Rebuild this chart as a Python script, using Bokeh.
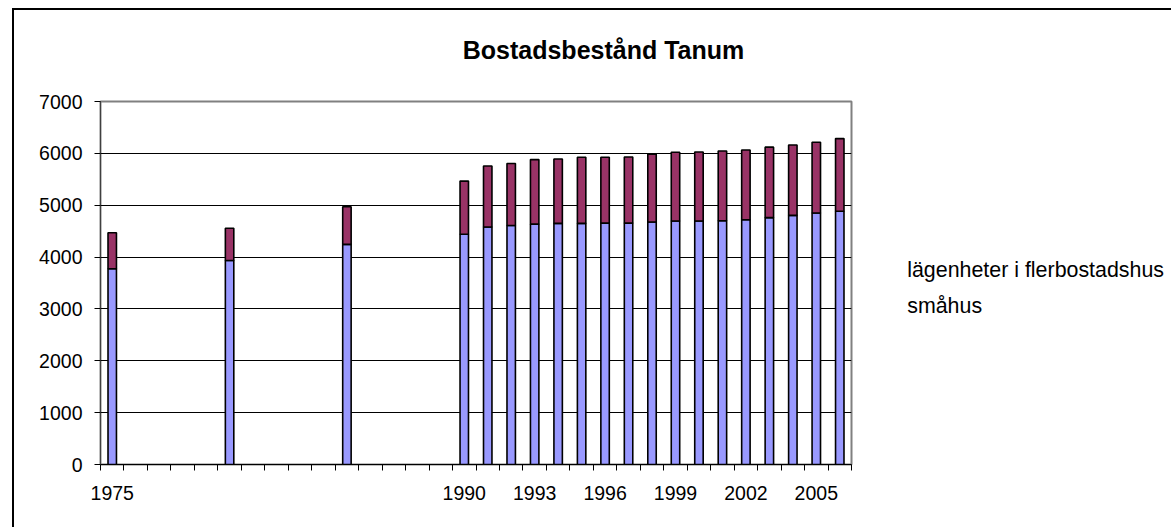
from bokeh.plotting import figure
from bokeh.layouts import column, row
from bokeh.models import (FixedTicker, Legend, LegendItem, ColumnDataSource, Label, Range1d,
                          CDSView, IndexFilter)
from bokeh.embed import file_html
from bokeh.resources import INLINE

years = [1975, 1980, 1985, 1990, 1991, 1992, 1993, 1994, 1995, 1996,
         1997, 1998, 1999, 2000, 2001, 2002, 2003, 2004, 2005, 2006]
smahus = [3775, 3935, 4245, 4440, 4580, 4610, 4635, 4650, 4650, 4655,
          4655, 4675, 4695, 4695, 4700, 4720, 4760, 4805, 4850, 4885]
lagenheter = [695, 620, 725, 1025, 1175, 1195, 1245, 1240, 1275, 1270,
              1275, 1310, 1325, 1330, 1345, 1345, 1360, 1355, 1365, 1400]
x_labels = [1975, 1990, 1993, 1996, 1999, 2002, 2005]
y_ticks = [0, 1000, 2000, 3000, 4000, 5000, 6000, 7000]
series_names = ["lägenheter i flerbostadshus", "småhus"]
series_colors = ["#993366", "#9999FF"]
title_text = "Bostadsbestånd Tanum"

FONT = "Liberation Sans"

# ---- title strip ----
pt = figure(width=1157, height=70, x_range=Range1d(0, 1), y_range=Range1d(0, 1),
            x_axis_type=None, y_axis_type=None, output_backend="svg",
            toolbar_location=None, title=None,
            min_border_left=0, min_border_right=0, min_border_top=0, min_border_bottom=0)
pt.outline_line_color = None
pt.background_fill_alpha = 0
pt.border_fill_alpha = 0
pt.add_layout(Label(x=589, y=30.3, x_units="screen", y_units="screen", text=title_text,
                    text_align="center", text_baseline="alphabetic", text_font=FONT,
                    text_font_style="bold", text_font_size="25px", text_color="black"))

# ---- main chart ----
src = ColumnDataSource(dict(year=years, smahus=smahus, lag=lagenheter))

p = figure(width=847, height=447, x_range=(1974.5, 2006.5), y_range=(0, 7000),
           output_backend="svg", toolbar_location=None, title=None,
           min_border_left=86, min_border_right=10, min_border_top=21, min_border_bottom=63)
p.background_fill_color = "white"
p.border_fill_alpha = 0
p.outline_line_color = "#808080"
p.outline_line_width = 2

rs = p.vbar_stack(["smahus", "lag"], x="year", width=0.36, source=src,
                  fill_color=[series_colors[1], series_colors[0]],
                  line_color="black", line_width=1.6)

p.xgrid.visible = False
p.ygrid.ticker = FixedTicker(ticks=y_ticks[1:-1])
p.ygrid.grid_line_color = "black"
p.ygrid.grid_line_width = 1

boundaries = [years[0] - 0.5 + i for i in range(years[-1] - years[0] + 2)]
p.xaxis.ticker = FixedTicker(ticks=x_labels, minor_ticks=boundaries)
p.xaxis.major_tick_out = 0
p.xaxis.major_tick_in = 0
p.xaxis.minor_tick_out = 6
p.xaxis.minor_tick_in = 0
p.xaxis.minor_tick_line_color = "black"
p.xaxis.axis_line_color = "black"
p.xaxis.major_label_standoff = 15
p.xaxis.major_label_overrides = {y: str(y) for y in x_labels}

p.yaxis.ticker = FixedTicker(ticks=y_ticks)
p.yaxis.major_tick_out = 6
p.yaxis.major_tick_in = 0
p.yaxis.minor_tick_line_color = None
p.yaxis.axis_line_color = "#404040"
p.yaxis.major_label_standoff = 12

for ax in (p.xaxis[0], p.yaxis[0]):
    ax.major_label_text_font = FONT
    ax.major_label_text_font_size = "19.5px"
    ax.major_label_text_color = "black"
    ax.major_tick_line_color = "black"

# ---- legend panel: swatches from the same series, with a view that shows no rows ----
pl = figure(width=310, height=447, x_range=Range1d(2010, 2040), y_range=Range1d(0, 7000),
            x_axis_type=None, y_axis_type=None, output_backend="svg",
            toolbar_location=None, title=None,
            min_border_left=0, min_border_right=0, min_border_top=0, min_border_bottom=0)
pl.outline_line_color = None
pl.background_fill_alpha = 0
pl.border_fill_alpha = 0
lr_sma = pl.vbar(x="year", top="smahus", width=0.36, source=src,
                 view=CDSView(filter=IndexFilter(indices=[])),
                 fill_color=series_colors[1], line_color="black", line_width=1.6)
lr_lag = pl.vbar(x="year", top="lag", width=0.36, source=src,
                 view=CDSView(filter=IndexFilter(indices=[])),
                 fill_color=series_colors[0], line_color="black", line_width=1.6)

legend = Legend(items=[LegendItem(label=series_names[0], renderers=[lr_lag]),
                       LegendItem(label=series_names[1], renderers=[lr_sma])],
                location=(25.2, 145.3), orientation="vertical")
legend.glyph_width = 18
legend.glyph_height = 18
legend.label_height = 18
legend.spacing = 11
legend.padding = 0
legend.margin = 0
legend.label_standoff = 3
legend.border_line_color = None
legend.background_fill_alpha = 0
legend.label_text_font = FONT
legend.label_text_font_size = "21.4px"
legend.label_text_color = "black"
pl.add_layout(legend, "center")

layout = column(pt, row(p, pl, spacing=0), spacing=0,
                styles={"margin-left": "12px", "margin-top": "8px",
                        "border-left": "2px solid black", "border-top": "2px solid black"})

open("out.html", "w").write(file_html(layout, INLINE))
